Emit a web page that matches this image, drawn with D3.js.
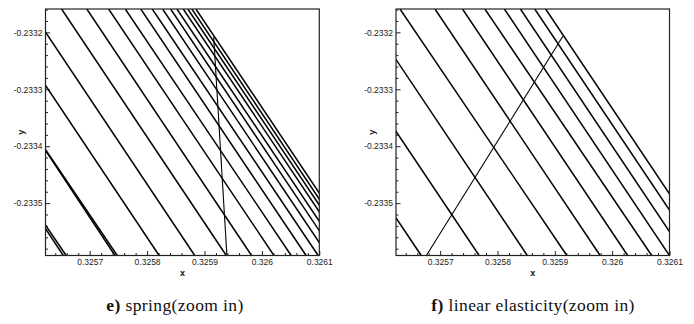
<!DOCTYPE html>
<html>
<head>
<meta charset="utf-8">
<script src="https://cdn.jsdelivr.net/npm/d3@7"></script>
<style>
  html, body { margin: 0; padding: 0; background: #fff; }
  svg { display: block; }
  .tick text { font-family: "Liberation Sans", Arial, sans-serif; font-size: 8.5px; fill: #222; }
  .axis-title { font-family: "Liberation Sans", Arial, sans-serif; font-size: 9px; font-weight: bold; fill: #111; }
  .caption { font-family: "Liberation Serif", "Times New Roman", serif; font-size: 17.5px; fill: #111; letter-spacing: 0.4px; }
</style>
</head>
<body>
<svg id="chart" width="694" height="324"></svg>
<script>
// Visible window of both zoomed mesh views (same for both panels)
const xDomain = [0.325623, 0.3261];
const yDomain = [-0.233592, -0.233159];

// Axis ticks
const xTickValues = [0.3257, 0.3258, 0.3259, 0.326, 0.3261];
const xTickLabels = ["0.3257", "0.3258", "0.3259", "0.326", "0.3261"];
const yTickValues = [-0.2332, -0.2333, -0.2334, -0.2335];
const yTickLabels = ["-0.2332", "-0.2333", "-0.2334", "-0.2335"];
const minorStep = 0.00002;

// Mesh lines: x where each grid line passes y = yLineTop and y = yLineBottom
const yLineTop = -0.233159;
const yLineBottom = -0.233592;

// e) spring smoothing
const springTopX = [
  0.325367, 0.325370, 0.325457, 0.325460, 0.325534, 0.325596,
  0.325651, 0.325695, 0.325733, 0.325762, 0.325789, 0.325809,
  0.325827, 0.325841, 0.325852, 0.325863, 0.325871, 0.325878, 0.325885
];
const springBottomX = [
  0.325659, 0.325654, 0.325748, 0.325744, 0.325821, 0.325883,
  0.325938, 0.325982, 0.326021, 0.326051, 0.326077, 0.326098,
  0.326115, 0.326129, 0.326140, 0.326151, 0.326159, 0.326166, 0.326173
];
// boundary edge of the spring mesh: [x, y] end points
const springEdge = [[0.325916, -0.233208], [0.325939, -0.233592]];

// f) linear elasticity
const elasticTopX = [
  0.325379, 0.325480, 0.325564, 0.325630, 0.325691, 0.325739,
  0.325778, 0.325812, 0.325840, 0.325865, 0.325884
];
const elasticBottomX = [
  0.325667, 0.325768, 0.325852, 0.325921, 0.325979, 0.326027,
  0.326069, 0.326100, 0.326128, 0.326153, 0.326172
];
const elasticEdge = [[0.325914, -0.233207], [0.325676, -0.233592]];

const svg = d3.select("#chart");
svg.append("rect").attr("width", 694).attr("height", 324).attr("fill", "#fff");

const plotTop = 9, plotBottom = 255.5;

const panels = [
  { id: "e", left: 45.5, right: 319.3, topX: springTopX, bottomX: springBottomX, edge: springEdge,
    bold: "e)", text: "spring(zoom in)", captionX: 175 },
  { id: "f", left: 396, right: 669.5, topX: elasticTopX, bottomX: elasticBottomX, edge: elasticEdge,
    bold: "f)", text: "linear elasticity(zoom in)", captionX: 533 }
];

function range(a, b, step) {
  const out = [];
  const n = Math.round((b - a) / step);
  for (let i = 0; i <= n; i++) out.push(+(a + i * step).toFixed(6));
  return out;
}
const xMinor = range(0.32564, 0.32610, minorStep).filter(v => !xTickValues.some(t => Math.abs(t - v) < 1e-9));
const yMinor = range(-0.23358, -0.23316, minorStep).filter(v => !yTickValues.some(t => Math.abs(t - v) < 1e-9));

panels.forEach(p => {
  const x = d3.scaleLinear().domain(xDomain).range([p.left, p.right]);
  const y = d3.scaleLinear().domain(yDomain).range([plotBottom, plotTop]);
  const g = svg.append("g");

  const clipId = "clip-" + p.id;
  g.append("clipPath").attr("id", clipId)
    .append("rect").attr("x", p.left).attr("y", plotTop)
    .attr("width", p.right - p.left).attr("height", plotBottom - plotTop);

  const lines = g.append("g").attr("clip-path", `url(#${clipId})`);
  lines.selectAll("line.mesh")
    .data(d3.zip(p.topX, p.bottomX))
    .join("line")
    .attr("class", "mesh")
    .attr("x1", d => x(d[0])).attr("y1", y(yLineTop))
    .attr("x2", d => x(d[1])).attr("y2", y(yLineBottom))
    .attr("stroke", "#000").attr("stroke-width", 1.5);

  lines.append("line")
    .attr("x1", x(p.edge[0][0])).attr("y1", y(p.edge[0][1]))
    .attr("x2", x(p.edge[1][0])).attr("y2", y(p.edge[1][1]))
    .attr("stroke", "#000").attr("stroke-width", 1.1);

  // minor ticks (inward)
  g.append("g").attr("transform", `translate(0,${plotBottom})`)
    .call(d3.axisBottom(x).tickValues(xMinor).tickSize(-2.5).tickFormat(""))
    .call(a => a.select(".domain").remove())
    .selectAll("line").attr("stroke", "#222");
  g.append("g").attr("transform", `translate(${p.left},0)`)
    .call(d3.axisLeft(y).tickValues(yMinor).tickSize(-2.5).tickFormat(""))
    .call(a => a.select(".domain").remove())
    .selectAll("line").attr("stroke", "#222");

  // major ticks with labels
  const xAxis = g.append("g").attr("transform", `translate(0,${plotBottom})`)
    .call(d3.axisBottom(x).tickValues(xTickValues).tickSize(-4.5).tickPadding(3)
      .tickFormat((d, i) => xTickLabels[i]))
    .call(a => a.select(".domain").remove());
  xAxis.selectAll("line").attr("stroke", "#222");
  xAxis.selectAll("text").attr("font-family", null).attr("font-size", null);

  const yAxis = g.append("g").attr("transform", `translate(${p.left},0)`)
    .call(d3.axisLeft(y).tickValues(yTickValues).tickSize(-4.5).tickPadding(3)
      .tickFormat((d, i) => yTickLabels[i]))
    .call(a => a.select(".domain").remove());
  yAxis.selectAll("line").attr("stroke", "#222");
  yAxis.selectAll("text").attr("font-family", null).attr("font-size", null);

  // frame
  g.append("rect")
    .attr("x", p.left).attr("y", plotTop)
    .attr("width", p.right - p.left).attr("height", plotBottom - plotTop)
    .attr("fill", "none").attr("stroke", "#222").attr("stroke-width", 1.2);

  // axis titles
  g.append("text").attr("class", "axis-title")
    .attr("x", (p.left + p.right) / 2).attr("y", 276)
    .attr("text-anchor", "middle").text("x");
  g.append("text").attr("class", "axis-title")
    .attr("transform", `translate(${p.left - 21.5},${(plotTop + plotBottom) / 2}) rotate(-90)`)
    .attr("text-anchor", "middle").text("y");

  // caption
  const cap = svg.append("text").attr("class", "caption")
    .attr("x", p.captionX).attr("y", 311).attr("text-anchor", "middle");
  cap.append("tspan").attr("font-weight", "bold").text(p.bold);
  cap.append("tspan").text("\u00a0" + p.text);
});
</script>
</body>
</html>
